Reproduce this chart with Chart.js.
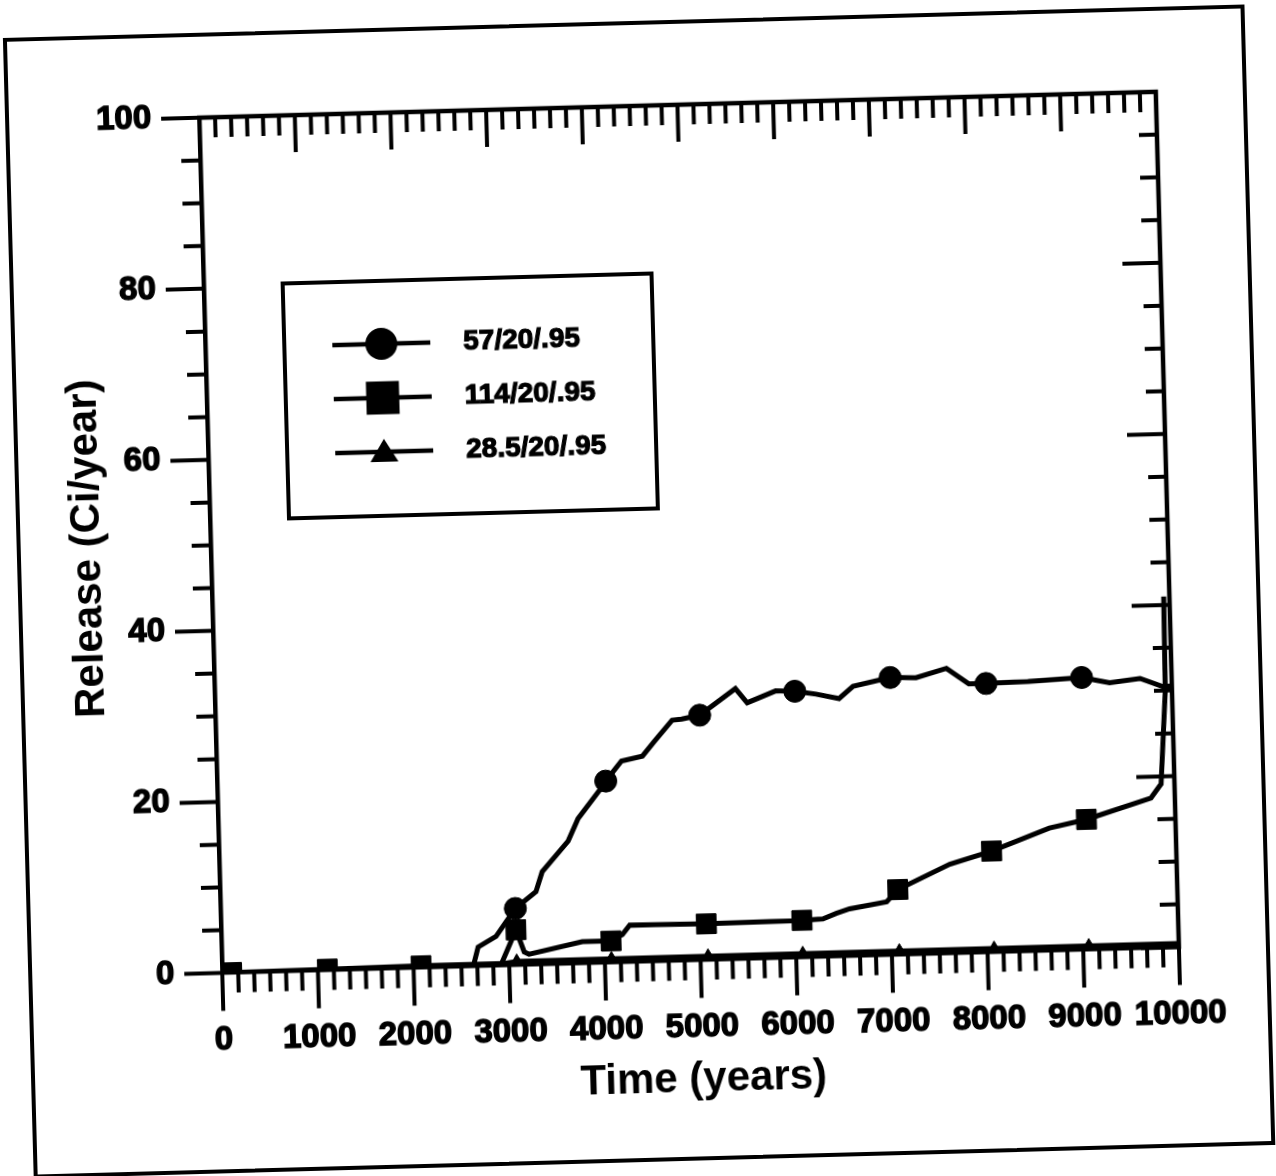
<!DOCTYPE html>
<html><head><meta charset="utf-8">
<script src="https://cdn.jsdelivr.net/npm/chart.js@4.4.1/dist/chart.umd.min.js"></script>
<style>
html,body{margin:0;padding:0;background:#fff;overflow:hidden;width:1276px;height:1176px}
#rot{position:absolute;left:0;top:0;width:1276px;height:1176px;transform:rotate(-1.55deg);transform-origin:638px 588px}
#frame{position:absolute;left:18px;top:21px;width:1242px;height:1141px;border:4px solid #000;box-sizing:border-box}
#c{position:absolute;left:0;top:0}
</style></head><body>
<div id="rot"><div id="frame"></div><canvas id="c" width="1276" height="1176"></canvas></div>
<script>
// ---- data ----
const seriesNames = ['57/20/.95', '114/20/.95', '28.5/20/.95'];

const circleYears  = [0, 2625, 2680, 2870, 3080, 3300, 3370, 3650, 3760, 4010, 4060, 4230, 4450, 4580, 4770, 4870, 5060, 5440, 5560, 5860, 6060, 6280, 6520, 6670, 7060, 7330, 7650, 7880, 8060, 8500, 9060, 9350, 9670, 9900, 10000];
const circleValues = [0, 0, 2.2, 3.4, 6.6, 8.5, 10.8, 14.3, 16.9, 20.4, 21.2, 23.5, 24.0, 25.7, 28.1, 28.2, 28.6, 31.6, 29.9, 31.2, 31.1, 30.7, 30.1, 31.5, 32.4, 32.3, 33.3, 31.4, 31.4, 31.5, 31.8, 31.1, 31.5, 30.5, 30.5];
const circleMarkerYears = [3080, 4060, 5060, 6060, 7060, 8060, 9060];

const squareYears  = [0, 100, 1100, 2080, 2920, 3080, 3160, 3210, 3770, 4070, 4190, 4270, 5070, 6070, 6290, 6430, 6570, 6960, 7080, 7630, 8070, 8680, 9070, 9750, 9860, 9930, 9940];
const squareValues = [0, 0, 0.1, 0.2, 0.2, 4.1, 1.5, 1.2, 2.5, 2.5, 3.2, 4.3, 4.2, 4.3, 4.4, 5.0, 5.5, 6.2, 7.6, 10.4, 11.8, 14.3, 15.2, 17.5, 19.1, 30, 41];
const squareMarkerYears = [100, 1100, 2080, 3080, 4070, 5070, 6070, 7080, 8070, 9070];

const triangleYears  = [0, 2850, 2950, 3080, 4070, 5080, 6070, 7080, 8070, 9060, 10000];
const triangleValues = [0, 0, 0.2, 0.4, 0.4, 0.4, 0.4, 0.4, 0.4, 0.4, 0.4];
const triangleMarkerYears = [3080, 4070, 5080, 6070, 7080, 8070, 9060];

const xTickLabels = ['0', '1000', '2000', '3000', '4000', '5000', '6000', '7000', '8000', '9000', '10000'];
const yTickLabels = ['0', '20', '40', '60', '80', '100'];
const xTitle = 'Time (years)';
const yTitle = 'Release (Ci/year)';

// ---- chart ----
const FONT = '"Liberation Sans", Arial, Helvetica, sans-serif';
function pts(xs, ys) { return xs.map((x, i) => ({x: x, y: ys[i]})); }
function markerRadius(list, r) { return ctx => (ctx.raw && list.includes(ctx.raw.x)) ? r : 0; }

const axisDeco = {
  id: 'axisDeco',
  afterDatasetsDraw(chart) {
    const {ctx, chartArea: a, scales: {x, y}} = chart;
    ctx.save();
    ctx.strokeStyle = '#000';
    ctx.lineWidth = 4.5;
    ctx.lineCap = 'butt';
    ctx.beginPath();
    ctx.moveTo(a.left - 2, a.top);
    ctx.lineTo(a.right, a.top);
    ctx.lineTo(a.right, a.bottom + 2);
    ctx.stroke();
    ctx.lineWidth = 4;
    ctx.beginPath();
    for (let i = 0; i <= 60; i++) {
      const px = x.getPixelForValue(i * 1000 / 6);
      const major = i % 6 === 0;
      ctx.moveTo(px, a.bottom); ctx.lineTo(px, a.bottom + (major ? 38 : 20));
      ctx.moveTo(px, a.top); ctx.lineTo(px, a.top + (major ? 37 : 20));
    }
    for (let i = 0; i <= 20; i++) {
      const py = y.getPixelForValue(i * 5);
      const major = i % 4 === 0;
      ctx.moveTo(a.left, py); ctx.lineTo(a.left - (major ? 38 : 19), py);
      ctx.moveTo(a.right, py); ctx.lineTo(a.right - (major ? 38 : 18), py);
    }
    ctx.stroke();
    ctx.restore();
  },
  afterDraw(chart) {
    const ctx = chart.ctx;
    ctx.save();
    ctx.strokeStyle = '#000';
    ctx.fillStyle = '#000';
    ctx.lineWidth = 4;
    ctx.strokeRect(291, 274, 369, 235);
    const rows = [337, 391, 445];
    const styles = ['circle', 'rect', 'triangle'];
    rows.forEach((ry, i) => {
      ctx.lineWidth = 4.5;
      ctx.beginPath();
      ctx.moveTo(339, ry); ctx.lineTo(437, ry);
      ctx.stroke();
      ctx.beginPath();
      if (styles[i] === 'circle') {
        ctx.arc(388, ry, 16, 0, Math.PI * 2);
      } else if (styles[i] === 'rect') {
        ctx.rect(388 - 16.5, ry - 16.5, 33, 33);
      } else {
        ctx.moveTo(388, ry - 13); ctx.lineTo(388 + 14, ry + 10); ctx.lineTo(388 - 14, ry + 10); ctx.closePath();
      }
      ctx.fill();
      ctx.font = 'bold 28px ' + FONT;
      ctx.textBaseline = 'middle';
      ctx.textAlign = 'left';
      ctx.lineWidth = 1.2;
      ctx.fillText(seriesNames[i], 470, ry);
      ctx.strokeText(seriesNames[i], 470, ry);
    });
    ctx.restore();
  }
};

const common = {borderColor: '#000', backgroundColor: '#000', borderWidth: 5, tension: 0,
  pointBorderWidth: 1, pointBorderColor: '#000', pointBackgroundColor: '#000', pointHoverRadius: 0};

new Chart(document.getElementById('c'), {
  type: 'line',
  data: {
    datasets: [
      Object.assign({label: seriesNames[0], data: pts(circleYears, circleValues), pointStyle: 'circle', pointRadius: markerRadius(circleMarkerYears, 11)}, common),
      Object.assign({label: seriesNames[1], data: pts(squareYears, squareValues), pointStyle: 'rect', pointRadius: markerRadius(squareMarkerYears, 14)}, common),
      Object.assign({label: seriesNames[2], data: pts(triangleYears, triangleValues), pointStyle: 'triangle', pointRadius: markerRadius(triangleMarkerYears, 7.5)}, common)
    ]
  },
  options: {
    responsive: false,
    animation: false,
    devicePixelRatio: 1,
    layout: {padding: {left: 0, top: 106, right: 107, bottom: 0}},
    plugins: {legend: {display: false}, tooltip: {enabled: false}, title: {display: false}},
    scales: {
      x: {
        type: 'linear', position: 'bottom', min: 0, max: 10000,
        afterFit: s => { s.height = 214.5; },
        grid: {display: false, drawTicks: false},
        border: {display: true, color: '#000', width: 4.5},
        ticks: {stepSize: 1000, autoSkip: false, maxRotation: 0, padding: 48, color: '#000',
          textStrokeColor: '#000', textStrokeWidth: 1.4,
          font: {family: FONT, size: 33, weight: 'bold', lineHeight: 1.2},
          callback: (v, i) => xTickLabels[i]},
        title: {display: true, text: xTitle, color: '#000', padding: {top: 0, bottom: 69},
          font: {family: FONT, size: 42, weight: 'bold', lineHeight: 1.2}}
      },
      y: {
        type: 'linear', position: 'left', min: 0, max: 100,
        afterFit: s => { s.width = 212; },
        grid: {display: false, drawTicks: false},
        border: {display: true, color: '#000', width: 4.5},
        ticks: {stepSize: 20, autoSkip: false, padding: 48, color: '#000',
          textStrokeColor: '#000', textStrokeWidth: 1.4,
          font: {family: FONT, size: 33, weight: 'bold', lineHeight: 1.2},
          callback: (v, i) => yTickLabels[i]},
        title: {display: true, text: yTitle, color: '#000', padding: {top: 64, bottom: 0},
          font: {family: FONT, size: 42, weight: 'bold', lineHeight: 1.2}}
      }
    }
  },
  plugins: [axisDeco]
});
</script>
</body></html>
